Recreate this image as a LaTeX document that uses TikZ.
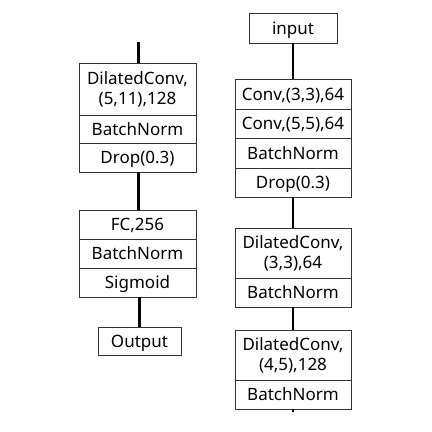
\documentclass[tikz,border=0pt]{standalone}
\usepackage{fontspec}
\setmainfont{Noto Sans}
\usepackage{tikz}

\tikzset{
  layer/.style={rectangle, draw=black!80, line width=0.8pt, inner sep=0pt,
                align=center, font=\fontsize{17}{20}\selectfont},
  oneline/.style={text height=15.5pt, text depth=3pt},
  link/.style={draw=black, line width=2.4pt}
}

\begin{document}
\begin{tikzpicture}[x=1pt, y=-1pt]

        \useasboundingbox (0,0) rectangle (432,432);

        % left branch
        \begin{scope}[every node/.style={layer, minimum width=117pt}]
          \node[minimum height=52pt] (dconvA) at (137.5,89)  {DilatedConv,\\(5,11),128};
          \node[oneline, minimum height=28pt] (normA)  at (137.5,129) {BatchNorm};
          \node[oneline, minimum height=29pt] (dropA)  at (137.5,157.5) {Drop(0.3)};
          \node[oneline, minimum height=29pt] (fc)     at (137.5,224.5) {FC,256};
          \node[oneline, minimum height=29pt] (normB)  at (137.5,253.5) {BatchNorm};
          \node[oneline, minimum height=29pt] (sigm)   at (137.5,282.5) {Sigmoid};
          \node[oneline, minimum width=83pt, minimum height=28pt] (output) at (139.5,341) {Output};
        \end{scope}

        % right branch
        \begin{scope}[every node/.style={layer, minimum width=116pt}]
          \node[oneline, minimum width=88pt, minimum height=30pt] (input) at (293,28) {input};
          \node[oneline, minimum height=30pt] (convA)  at (293,94)    {Conv,(3,3),64};
          \node[oneline, minimum height=29pt] (convB)  at (293,123.5) {Conv,(5,5),64};
          \node[oneline, minimum height=30pt] (normC)  at (293,153)   {BatchNorm};
          \node[oneline, minimum height=29pt] (dropB)  at (293,182.5) {Drop(0.3)};
          \node[minimum height=50pt] (dconvB) at (293,253)   {DilatedConv,\\(3,3),64};
          \node[oneline, minimum height=29pt] (normD)  at (293,292.5) {BatchNorm};
          \node[minimum height=50pt] (dconvC) at (293,355)   {DilatedConv,\\(4,5),128};
          \node[oneline, minimum height=29pt] (normE)  at (293,394.5) {BatchNorm};
        \end{scope}

        \coordinate (inA)  at (138.3,42);
        \coordinate (outB) at (293,412);

        \begin{scope}[every edge/.style={link}]
          \path (inA)   edge (inA |- dconvA.north);
          \path (dropA.south -| inA) edge (fc.north -| inA);
          \path (sigm.south -| output) edge (output.north);
          \path (input) edge (convA);
          \path (dropB) edge (dconvB);
          \path (normD) edge (dconvC);
          \path (normE) edge (outB);
        \end{scope}

      \end{tikzpicture}
\end{document}
